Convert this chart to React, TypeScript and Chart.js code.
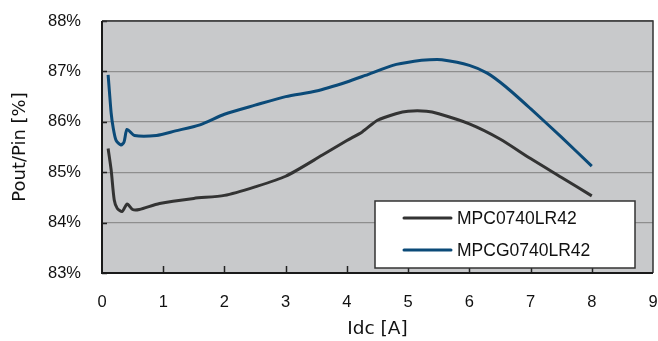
import React, { useEffect, useRef } from "react";
import { Chart, registerables } from "chart.js";

Chart.register(...registerables);

// MPC0740LR42 (dark grey)
const mpcX = [0.1, 0.15, 0.2, 0.25, 0.33, 0.41, 0.5, 0.61, 0.94, 1.5, 2.0, 2.5, 3.0, 3.6, 4.0, 4.25, 4.5, 4.8, 5.0, 5.3, 5.5, 6.0, 6.5, 7.0, 7.5, 8.0];
const mpcY = [85.47, 85.04, 84.45, 84.28, 84.22, 84.37, 84.26, 84.26, 84.38, 84.48, 84.54, 84.71, 84.92, 85.34, 85.63, 85.8, 86.03, 86.16, 86.21, 86.21, 86.16, 85.96, 85.66, 85.27, 84.9, 84.53];

// MPCG0740LR42 (blue)
const mpcgX = [0.1, 0.12, 0.15, 0.18, 0.23, 0.31, 0.36, 0.41, 0.53, 0.89, 1.2, 1.6, 2.0, 2.5, 3.0, 3.5, 4.0, 4.3, 4.75, 5.1, 5.35, 5.55, 6.0, 6.3, 6.6, 7.0, 7.5, 8.0];
const mpcgY = [86.93, 86.62, 86.17, 85.9, 85.63, 85.54, 85.6, 85.85, 85.73, 85.73, 85.82, 85.94, 86.15, 86.33, 86.5, 86.61, 86.79, 86.92, 87.12, 87.2, 87.23, 87.23, 87.12, 86.96, 86.69, 86.26, 85.7, 85.12];

const seriesNames = ["MPC0740LR42", "MPCG0740LR42"];
const seriesColors = ["#333333", "#0b4a78"];
const xTickValues = [0, 1, 2, 3, 4, 5, 6, 7, 8, 9];
const yTickValues = [83, 84, 85, 86, 87, 88];
const xTitle = "Idc [A]";
const yTitle = "Pout/Pin [%]";

const FONT = "'Liberation Sans', Arial, sans-serif";
const TICK_FONT = "'Liberation Sans', Arial, sans-serif";
const TITLE_FONT = "'DejaVu Sans', sans-serif";

const zeroPadding = (s: any) => {
  s.paddingTop = 0;
  s.paddingBottom = 0;
  s.paddingLeft = 0;
  s.paddingRight = 0;
};

const decorPlugin = {
  id: "decor",
  beforeDraw(chart: any) {
    const { ctx, chartArea: a } = chart;
    ctx.save();
    ctx.fillStyle = "#c8c9cb";
    ctx.fillRect(a.left, a.top, a.right - a.left, a.bottom - a.top);
    ctx.restore();
  },
  afterDatasetsDraw(chart: any) {
    const { ctx, chartArea: a, scales } = chart;
    ctx.save();
    // inner ticks
    ctx.strokeStyle = "#222";
    ctx.lineWidth = 1.5;
    xTickValues.forEach((v) => {
      if (v === 0 || v === 9) return;
      const x = Math.round(scales.x.getPixelForValue(v)) + 0.5;
      ctx.beginPath();
      ctx.moveTo(x, a.bottom);
      ctx.lineTo(x, a.bottom - 7);
      ctx.stroke();
    });
    yTickValues.forEach((v) => {
      const y = Math.round(scales.y.getPixelForValue(v)) + 0.5;
      ctx.beginPath();
      ctx.moveTo(a.left, y);
      ctx.lineTo(a.left + 5, y);
      ctx.stroke();
    });
    // frame top/right
    ctx.strokeStyle = "#333";
    ctx.lineWidth = 1.5;
    ctx.beginPath();
    ctx.moveTo(a.left, a.top);
    ctx.lineTo(a.right, a.top);
    ctx.lineTo(a.right, a.bottom);
    ctx.stroke();
    // axes left/bottom
    ctx.strokeStyle = "#1a1a1a";
    ctx.lineWidth = 2;
    ctx.beginPath();
    ctx.moveTo(a.left, a.top);
    ctx.lineTo(a.left, a.bottom);
    ctx.lineTo(a.right, a.bottom);
    ctx.stroke();

    // legend
    const bx = a.right - 278;
    const by = a.bottom - 72;
    const bw = 260;
    const bh = 67;
    ctx.fillStyle = "#ffffff";
    ctx.fillRect(bx, by, bw, bh);
    ctx.strokeStyle = "#333";
    ctx.lineWidth = 1.5;
    ctx.strokeRect(bx, by, bw, bh);
    ctx.font = "17.5px " + FONT;
    ctx.textBaseline = "middle";
    ctx.textAlign = "left";
    chart.data.datasets.forEach((ds: any, i: number) => {
      const y = by + 17 + i * 32;
      ctx.strokeStyle = ds.borderColor;
      ctx.lineWidth = 3;
      ctx.lineCap = "round";
      ctx.beginPath();
      ctx.moveTo(bx + 29, y);
      ctx.lineTo(bx + 76, y);
      ctx.stroke();
      ctx.fillStyle = "#111";
      ctx.fillText(ds.label, bx + 82, y + 1);
    });
    ctx.restore();
  },
};

export default function App() {
  const ref = useRef<HTMLCanvasElement | null>(null);
  useEffect(() => {
    document.body.style.margin = "0";
    const canvas = ref.current!;
    const toPts = (xs: number[], ys: number[]) => xs.map((x, i) => ({ x, y: ys[i] }));
    const chart = new Chart(canvas, {
      type: "line",
      data: {
        datasets: [
          {
            label: seriesNames[0],
            data: toPts(mpcX, mpcY),
            borderColor: seriesColors[0],
            borderWidth: 3,
            pointRadius: 0,
            tension: 0.25,
            fill: false,
          },
          {
            label: seriesNames[1],
            data: toPts(mpcgX, mpcgY),
            borderColor: seriesColors[1],
            borderWidth: 3,
            pointRadius: 0,
            tension: 0.25,
            fill: false,
          },
        ],
      },
      options: {
        responsive: false,
        animation: false,
        devicePixelRatio: 1,
        layout: { padding: { top: 21, right: 5, left: 0, bottom: 0 } },
        plugins: { legend: { display: false }, tooltip: { enabled: false } },
        scales: {
          x: {
            type: "linear",
            min: 0,
            max: 9,
            afterBuildTicks: (s: any) => {
              s.ticks = xTickValues.map((v) => ({ value: v }));
            },
            afterFit: (s: any) => {
              s.height = 68;
              zeroPadding(s);
            },
            grid: { display: false, drawTicks: false },
            border: { display: false },
            ticks: { padding: 20, color: "#111", font: { family: TICK_FONT, size: 16.5 } },
            title: {
              display: true,
              text: xTitle,
              color: "#111",
              font: { family: TITLE_FONT, size: 18.5 },
              padding: { top: 0, bottom: 1 },
            },
          },
          y: {
            type: "linear",
            min: 83,
            max: 88,
            afterBuildTicks: (s: any) => {
              s.ticks = yTickValues.map((v) => ({ value: v }));
            },
            afterFit: (s: any) => {
              s.width = 102;
              zeroPadding(s);
            },
            grid: { color: "#8e8e8e", lineWidth: 1.2, drawTicks: false },
            border: { display: false },
            ticks: {
              padding: 21,
              color: "#111",
              font: { family: TICK_FONT, size: 16.5 },
              callback: (v: any) => v + "%",
            },
            title: {
              display: true,
              text: yTitle,
              color: "#111",
              font: { family: TITLE_FONT, size: 18 },
              padding: { top: 10, bottom: 0 },
            },
          },
        },
      },
      plugins: [decorPlugin],
    });
    return () => chart.destroy();
  }, []);
  return (
    <div style={{ width: 658, height: 341, background: "#fff" }}>
      <canvas ref={ref} width={658} height={341} />
    </div>
  );
}
